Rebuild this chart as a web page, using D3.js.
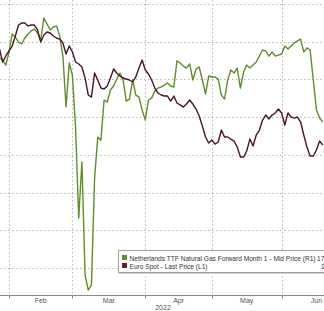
<!DOCTYPE html>
<html>
<head>
<meta charset="utf-8">
<script src="https://cdn.jsdelivr.net/npm/d3@7"></script>
<style>
  html, body { margin: 0; padding: 0; background: #fff; }
  svg { display: block; }
</style>
</head>
<body>
<svg id="chart" width="324" height="311"></svg>
<script>
// weekdays from Jan 27 to Jun 20, 2022
const startDay = new Date(2022, 0, 27);
const endDay = new Date(2022, 5, 21);
const monthLabels = ['Feb', 'Mar', 'Apr', 'May', 'Jun'];
const yearLabel = '2022';

// Netherlands TTF front month (EUR/MWh), right axis, inverted
const ttf = [
  88.6, 89.7, 92.4, 85.5, 75.9, 77.5, 80.2, 81.2, 78.0, 75.9,
  74.3, 73.3, 75.4, 79.1, 67.4, 70.6, 73.8, 72.2, 71.7, 77.0,
  87.6, 114.6, 91.3, 97.7, 125.8, 173.5, 143.8, 203.8, 211.7, 209.1,
  152.3, 130.6, 132.2, 110.9, 112.0, 105.6, 103.5, 99.8, 96.6, 100.3,
  111.5, 110.4, 100.3, 108.3, 109.3, 116.2, 121.5, 110.9, 109.9, 106.2,
  104.6, 104.0, 103.0, 101.9, 103.5, 104.0, 90.2, 91.3, 92.9, 94.0,
  91.8, 100.3, 94.5, 93.4, 100.3, 107.7, 98.2, 98.7, 98.7, 99.8,
  108.3, 110.4, 100.3, 95.0, 96.6, 94.0, 104.6, 96.1, 92.4, 94.0,
  92.4, 90.8, 87.6, 84.4, 84.9, 87.6, 85.5, 87.6, 87.1, 86.5,
  82.3, 83.9, 82.3, 80.7, 79.6, 78.6, 85.5, 83.3, 84.4, 100.3,
  116.2, 120.5, 122.6
];

// EURUSD spot, left axis
const eur = [
  1.1257, 1.1145, 1.1197, 1.1240, 1.1283, 1.1369, 1.1464, 1.1481, 1.1481, 1.1456,
  1.1464, 1.1464, 1.1421, 1.1318, 1.1378, 1.1404, 1.1395, 1.1369, 1.1352, 1.1343,
  1.1309, 1.1214, 1.1283, 1.1231, 1.1145, 1.1128, 1.1102, 1.1007, 1.0861, 1.0843,
  1.1050, 1.0990, 1.0921, 1.0912, 1.0938, 1.1007, 1.1085, 1.1050, 1.1024, 1.1007,
  1.0999, 1.0990, 1.0973, 1.1016, 1.1093, 1.1162, 1.1076, 1.1042, 1.0990, 1.0921,
  1.0878, 1.0861, 1.0852, 1.0852, 1.0809, 1.0852, 1.0792, 1.0775, 1.0757, 1.0783,
  1.0818, 1.0783, 1.0740, 1.0680, 1.0593, 1.0499, 1.0447, 1.0473, 1.0438, 1.0456,
  1.0559, 1.0499, 1.0499, 1.0481, 1.0464, 1.0412, 1.0326, 1.0326, 1.0378, 1.0481,
  1.0421, 1.0516, 1.0559, 1.0645, 1.0688, 1.0654, 1.0688, 1.0706, 1.0740, 1.0706,
  1.0602, 1.0706, 1.0671, 1.0662, 1.0671, 1.0628, 1.0516, 1.0412, 1.0335, 1.0335,
  1.0387, 1.0464, 1.0430
];

const gridValues = [60, 80, 100, 120, 140, 160, 180, 200];

const legendItems = [
  { name: 'Netherlands TTF Natural Gas Forward Month 1 - Mid Price (R1)', last: '172.31', lastX: 317, color: '#5e8f28' },
  { name: 'Euro Spot - Last Price (L1)', last: '1.0264', lastX: 321, color: '#6b1a30' }
];

const dates = d3.timeDay.range(startDay, endDay).filter(d => d.getDay() % 6 !== 0);

const svg = d3.select('#chart');
const axisY = 295.5;

const x = d3.scaleLinear().domain([0, dates.length - 1]).range([-0.5, 322.8]);
const yRight = d3.scaleLinear().domain([60, 200]).range([4, 268]);
const yLeft = d3.scaleLinear().domain([0.937, 1.1645]).range([268, 4]);

// first weekday of every month in view
const monthStarts = [];
dates.forEach((d, i) => {
  if (i > 0 && d.getMonth() !== dates[i - 1].getMonth()) monthStarts.push(i);
});

// gridlines
svg.append('g')
  .selectAll('line')
  .data(gridValues)
  .enter().append('line')
  .attr('x1', 0).attr('x2', 324)
  .attr('y1', d => Math.round(yRight(d)) + 0.5)
  .attr('y2', d => Math.round(yRight(d)) + 0.5)
  .attr('stroke', '#b8b8b8')
  .attr('stroke-dasharray', '1.5,2.5');

svg.append('g')
  .selectAll('line')
  .data(monthStarts)
  .enter().append('line')
  .attr('x1', d => Math.round(x(d)) + 0.5)
  .attr('x2', d => Math.round(x(d)) + 0.5)
  .attr('y1', 0).attr('y2', axisY)
  .attr('stroke', '#b8b8b8')
  .attr('stroke-dasharray', '1.5,2.5');

// series
const lineTtf = d3.line().x((d, i) => x(i)).y(d => yRight(d));
const lineEur = d3.line().x((d, i) => x(i)).y(d => yLeft(d));

svg.append('path')
  .datum(ttf)
  .attr('d', lineTtf)
  .attr('fill', 'none')
  .attr('stroke', '#5e8f28')
  .attr('stroke-width', 1.4)
  .attr('stroke-linejoin', 'round');

svg.append('path')
  .datum(eur)
  .attr('d', lineEur)
  .attr('fill', 'none')
  .attr('stroke', '#4a1528')
  .attr('stroke-width', 1.4)
  .attr('stroke-linejoin', 'round');

// x axis
svg.append('line')
  .attr('x1', 0).attr('x2', 324)
  .attr('y1', axisY).attr('y2', axisY)
  .attr('stroke', '#8a8a8a');

svg.append('g')
  .selectAll('line')
  .data(monthStarts)
  .enter().append('line')
  .attr('x1', d => Math.round(x(d)) + 0.5)
  .attr('x2', d => Math.round(x(d)) + 0.5)
  .attr('y1', axisY).attr('y2', axisY + 3)
  .attr('stroke', '#8a8a8a');

const monthEdges = monthStarts.concat([monthStarts[monthStarts.length - 1] + 22]);
svg.append('g')
  .selectAll('text')
  .data(monthLabels)
  .enter().append('text')
  .attr('x', (d, i) => (x(monthEdges[i]) + x(monthEdges[i + 1])) / 2)
  .attr('y', 303)
  .attr('text-anchor', 'middle')
  .attr('font-family', 'Liberation Sans, Arial, sans-serif')
  .attr('font-size', 7)
  .attr('fill', '#555')
  .text(d => d);

svg.append('text')
  .attr('x', 163)
  .attr('y', 310)
  .attr('text-anchor', 'middle')
  .attr('font-family', 'Liberation Sans, Arial, sans-serif')
  .attr('font-size', 7)
  .attr('fill', '#555')
  .text(yearLabel);

// legend
const legend = svg.append('g');
legend.append('rect')
  .attr('x', 118.5).attr('y', 250.5)
  .attr('width', 230).attr('height', 22)
  .attr('fill', '#fff')
  .attr('stroke', '#a0a0a0');
legend.append('line')
  .attr('x1', 119).attr('x2', 349)
  .attr('y1', 273.5).attr('y2', 273.5)
  .attr('stroke', '#cfcfcf');

const rows = legend.selectAll('g.row')
  .data(legendItems)
  .enter().append('g')
  .attr('class', 'row')
  .attr('transform', (d, i) => `translate(0, ${256 + i * 8})`);

rows.append('rect')
  .attr('x', 122).attr('y', -1)
  .attr('width', 5).attr('height', 5)
  .attr('fill', d => d.color);

rows.append('text')
  .attr('x', 129.5)
  .attr('y', 4.5)
  .attr('font-family', 'Liberation Sans, Arial, sans-serif')
  .attr('font-size', 6.6)
  .attr('fill', '#333')
  .text(d => d.name);

rows.append('text')
  .attr('x', d => d.lastX)
  .attr('y', 4.5)
  .attr('font-family', 'Liberation Sans, Arial, sans-serif')
  .attr('font-size', 6.6)
  .attr('fill', '#333')
  .text(d => d.last);
</script>
</body>
</html>
